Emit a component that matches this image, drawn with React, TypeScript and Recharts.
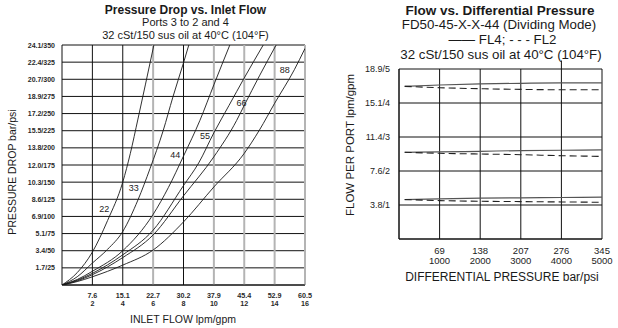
import React from "react";
import { LineChart, Line, XAxis, YAxis, CartesianGrid, ReferenceLine, ReferenceDot } from "recharts";

const FONT = "'Liberation Sans', Arial, Helvetica, sans-serif";

// ---------- Left chart: Pressure Drop vs. Inlet Flow ----------
const inletFlowGpmTicks = [2, 4, 6, 8, 10, 12, 14, 16];
const inletFlowLpmLabels = ["7.6", "15.1", "22.7", "30.2", "37.9", "45.4", "52.9", "60.5"];
const pressurePsiTicks = [25, 50, 75, 100, 125, 150, 175, 200, 225, 250, 275, 300, 325, 350];
const pressureTickLabels = [
  "1.7/25", "3.4/50", "5.1/75", "6.9/100", "8.6/125", "10.3/150", "12.0/175",
  "13.8/200", "15.5/225", "17.2/250", "18.9/275", "20.7/300", "22.4/325", "24.1/350",
];

const curve22 = [
  { gpm: 0, psi: 0 }, { gpm: 1, psi: 18 }, { gpm: 2, psi: 48 }, { gpm: 3, psi: 94 },
  { gpm: 4, psi: 150 }, { gpm: 4.5, psi: 192 }, { gpm: 5, psi: 242 }, { gpm: 5.5, psi: 293 },
  { gpm: 6.05, psi: 350 },
];
const curve33 = [
  { gpm: 0, psi: 0 }, { gpm: 1, psi: 12 }, { gpm: 2, psi: 32 }, { gpm: 3, psi: 52 },
  { gpm: 4, psi: 78 }, { gpm: 5, psi: 124 }, { gpm: 5.8, psi: 170 }, { gpm: 6.66, psi: 225 },
  { gpm: 7.3, psi: 274 }, { gpm: 8, psi: 324 }, { gpm: 8.35, psi: 350 },
];
const curve44 = [
  { gpm: 0, psi: 0 }, { gpm: 1, psi: 8 }, { gpm: 2, psi: 20 }, { gpm: 4, psi: 50 },
  { gpm: 6, psi: 103 }, { gpm: 7, psi: 142 }, { gpm: 8, psi: 188 }, { gpm: 9.08, psi: 240 },
  { gpm: 10, psi: 292 }, { gpm: 11.05, psi: 350 },
];
const curve55 = [
  { gpm: 0, psi: 0 }, { gpm: 1, psi: 7 }, { gpm: 2, psi: 17 }, { gpm: 4, psi: 44 },
  { gpm: 6, psi: 80 }, { gpm: 8, psi: 145 }, { gpm: 9, psi: 178 }, { gpm: 10, psi: 222 },
  { gpm: 11, psi: 262 }, { gpm: 12, psi: 302 }, { gpm: 13.25, psi: 350 },
];
const curve66 = [
  { gpm: 0, psi: 0 }, { gpm: 1, psi: 6 }, { gpm: 2, psi: 15 }, { gpm: 4, psi: 40 },
  { gpm: 6, psi: 73 }, { gpm: 8, psi: 130 }, { gpm: 10, psi: 187 }, { gpm: 11.5, psi: 240 },
  { gpm: 12, psi: 262 }, { gpm: 13, psi: 305 }, { gpm: 14.1, psi: 350 },
];
const curve88 = [
  { gpm: 0, psi: 0 }, { gpm: 1, psi: 5 }, { gpm: 2, psi: 12 }, { gpm: 4, psi: 29 },
  { gpm: 6, psi: 51 }, { gpm: 8, psi: 92 }, { gpm: 10, psi: 143 }, { gpm: 12, psi: 192 },
  { gpm: 13, psi: 226 }, { gpm: 14, psi: 265 }, { gpm: 15.3, psi: 314 }, { gpm: 16, psi: 345 },
];
const leftCurves = [curve22, curve33, curve44, curve55, curve66, curve88];
const curveNames = ["22", "33", "44", "55", "66", "88"];
const curveLabelGpm = [2.78, 4.72, 7.46, 9.41, 11.82, 14.67];
const curveLabelPsi = [111, 142, 190, 217, 265, 314];

// vertical grid appearance of the scanned original
const leftVerticalStroke: Record<number, string> = {
  2: "#111", 4: "#111", 6: "#b4b4b4", 8: "#111", 10: "#b4b4b4", 12: "#b4b4b4", 14: "#b4b4b4", 16: "#b4b4b4",
};

// ---------- Right chart: Flow vs. Differential Pressure ----------
const diffPressurePsi = [140, 1000, 2000, 3000, 4000, 5000];
const diffPressureTicksPsi = [1000, 2000, 3000, 4000, 5000];
const diffPressureBarLabels = ["69", "138", "207", "276", "345"];
const flowTicksGpm = [1, 2, 3, 4, 5];
const flowTickLabels = ["3.8/1", "7.6/2", "11.4/3", "15.1/4", "18.9/5"];
const fl4High = [4.49, 4.53, 4.56, 4.58, 4.59, 4.59];
const fl2High = [4.49, 4.45, 4.42, 4.4, 4.39, 4.39];
const fl4Mid = [2.55, 2.56, 2.58, 2.6, 2.61, 2.62];
const fl2Mid = [2.55, 2.52, 2.5, 2.48, 2.45, 2.43];
const fl4Low = [1.16, 1.18, 1.2, 1.21, 1.22, 1.23];
const fl2Low = [1.16, 1.13, 1.11, 1.1, 1.09, 1.08];

const rightData = diffPressurePsi.map((p, i) => ({
  psi: p,
  fl4High: fl4High[i], fl2High: fl2High[i],
  fl4Mid: fl4Mid[i], fl2Mid: fl2Mid[i],
  fl4Low: fl4Low[i], fl2Low: fl2Low[i],
}));

const LeftXTick = (props: any) => {
  const { x, y, payload } = props;
  const i = inletFlowGpmTicks.indexOf(payload.value);
  return (
    <g>
      <text x={x} y={y + 12.5} textAnchor="middle" fontSize={7.2} fontWeight="bold" fontFamily={FONT} fill="#2a2a2a">{inletFlowLpmLabels[i]}</text>
      <text x={x} y={y + 21} textAnchor="middle" fontSize={7.2} fontWeight="bold" fontFamily={FONT} fill="#2a2a2a">{payload.value}</text>
    </g>
  );
};

const LeftYTick = (props: any) => {
  const { x, y, payload } = props;
  const i = pressurePsiTicks.indexOf(payload.value);
  return (
    <text x={x} y={y + 2.6} textAnchor="end" fontSize={7} fontWeight="bold" fontFamily={FONT} fill="#2a2a2a">{pressureTickLabels[i]}</text>
  );
};

const RightXTick = (props: any) => {
  const { x, y, payload } = props;
  const i = diffPressureTicksPsi.indexOf(payload.value);
  return (
    <g>
      <text x={x} y={y + 15} textAnchor="middle" fontSize={9.5} fontFamily={FONT} fill="#222">{diffPressureBarLabels[i]}</text>
      <text x={x} y={y + 25} textAnchor="middle" fontSize={9.5} fontFamily={FONT} fill="#222">{payload.value}</text>
    </g>
  );
};

const RightYTick = (props: any) => {
  const { x, y, payload } = props;
  const i = flowTicksGpm.indexOf(payload.value);
  return (
    <text x={x} y={y + 3.2} textAnchor="end" fontSize={9} fontFamily={FONT} fill="#222">{flowTickLabels[i]}</text>
  );
};

export default function App() {
  return (
    <div style={{ position: "absolute", left: 0, top: 0, width: 618, height: 328, background: "#fff", overflow: "hidden" }}>
      <div style={{ position: "absolute", left: 310, top: 0 }}>
        <LineChart width={308} height={328} data={rightData} margin={{ top: 69, right: 16, bottom: 0, left: 0 }}>
          <CartesianGrid stroke="#111" strokeWidth={1} />
          <XAxis
            dataKey="psi" type="number" domain={[0, 5000]} ticks={diffPressureTicksPsi}
            height={89} tickSize={0} tickMargin={0} tickLine={false}
            axisLine={{ stroke: "#111", strokeWidth: 1 }} tick={<RightXTick />} interval={0}
          />
          <YAxis
            type="number" domain={[0, 5]} ticks={flowTicksGpm}
            width={89} tickSize={0} tickMargin={9} tickLine={false}
            axisLine={{ stroke: "#111", strokeWidth: 1 }} tick={<RightYTick />} interval={0}
          />
          <ReferenceLine
            segment={[{ x: 4000, y: 5 }, { x: 4000, y: 5.25 }]} stroke="#111" strokeWidth={1} ifOverflow="visible"
          />
          <Line dataKey="fl4High" type="monotone" stroke="#555" strokeWidth={1.2} dot={false} isAnimationActive={false} />
          <Line dataKey="fl2High" type="monotone" stroke="#222" strokeWidth={1.1} strokeDasharray="7 4" dot={false} isAnimationActive={false} />
          <Line dataKey="fl4Mid" type="monotone" stroke="#555" strokeWidth={1.2} dot={false} isAnimationActive={false} />
          <Line dataKey="fl2Mid" type="monotone" stroke="#222" strokeWidth={1.1} strokeDasharray="7 4" dot={false} isAnimationActive={false} />
          <Line dataKey="fl4Low" type="monotone" stroke="#555" strokeWidth={1.2} dot={false} isAnimationActive={false} />
          <Line dataKey="fl2Low" type="monotone" stroke="#222" strokeWidth={1.1} strokeDasharray="7 4" dot={false} isAnimationActive={false} />
        </LineChart>
      </div>
      <div style={{ position: "absolute", left: 0, top: 0 }}>
        <LineChart width={318} height={328} margin={{ top: 45, right: 13, bottom: 0, left: 0 }}>
          <CartesianGrid vertical={false} stroke="#111" strokeWidth={1} />
          <XAxis
            dataKey="gpm" type="number" domain={[0, 16]} ticks={inletFlowGpmTicks}
            height={43} tickSize={0} tickMargin={0} tickLine={false}
            axisLine={{ stroke: "#111", strokeWidth: 1 }} tick={<LeftXTick />} interval={0}
            allowDataOverflow
          />
          <YAxis
            dataKey="psi" type="number" domain={[0, 350]} ticks={pressurePsiTicks}
            width={62} tickSize={0} tickMargin={7} tickLine={false}
            axisLine={{ stroke: "#111", strokeWidth: 1 }} tick={<LeftYTick />} interval={0}
            allowDataOverflow
          />
          {inletFlowGpmTicks.map((g) => (
            <ReferenceLine key={"v" + g} x={g} stroke={leftVerticalStroke[g]} strokeWidth={leftVerticalStroke[g] === "#111" ? 1 : 2} />
          ))}
          {leftCurves.map((c, i) => (
            <Line
              key={curveNames[i]} data={c} dataKey="psi" type="monotone" stroke="#1a1a1a"
              strokeWidth={0.9} dot={false} isAnimationActive={false}
            />
          ))}
          {curveNames.map((n, i) => (
            <ReferenceDot
              key={"l" + n} x={curveLabelGpm[i]} y={curveLabelPsi[i]} r={0} fill="none" stroke="none"
              label={{ value: n, position: "center", fontSize: 9, fontFamily: FONT, fill: "#222" }}
            />
          ))}
        </LineChart>
      </div>
      <svg width={618} height={328} style={{ position: "absolute", left: 0, top: 0, pointerEvents: "none" }}>
        <g fontFamily={FONT} fill="#1a1a1a">
          <text x={185.5} y={13.5} textAnchor="middle" fontSize={12} fontWeight="bold">Pressure Drop vs. Inlet Flow</text>
          <text x={185.5} y={26} textAnchor="middle" fontSize={11}>Ports 3 to 2 and 4</text>
          <text x={185.5} y={39} textAnchor="middle" fontSize={11}>32 cSt/150 sus oil at 40°C (104°F)</text>
          <text x={183} y={323} textAnchor="middle" fontSize={10.5}>INLET FLOW lpm/gpm</text>
          <text transform="translate(15.7,172) rotate(-90)" textAnchor="middle" fontSize={10.5}>PRESSURE DROP bar/psi</text>

          <text x={500} y={14.5} textAnchor="middle" fontSize={13.5} fontWeight="bold">Flow vs. Differential Pressure</text>
          <text x={499} y={29} textAnchor="middle" fontSize={13.3}>FD50-45-X-X-44 (Dividing Mode)</text>
          <text x={502.5} y={43.5} textAnchor="middle" fontSize={13.3}>—— FL4; - - - FL2</text>
          <text x={501} y={59} textAnchor="middle" fontSize={13.3}>32 cSt/150 sus oil at 40°C (104°F)</text>
          <text x={502} y={281} textAnchor="middle" fontSize={12}>DIFFERENTIAL PRESSURE bar/psi</text>
          <text transform="translate(354,145) rotate(-90)" textAnchor="middle" fontSize={11.5}>FLOW PER PORT lpm/gpm</text>
        </g>
      </svg>
    </div>
  );
}
